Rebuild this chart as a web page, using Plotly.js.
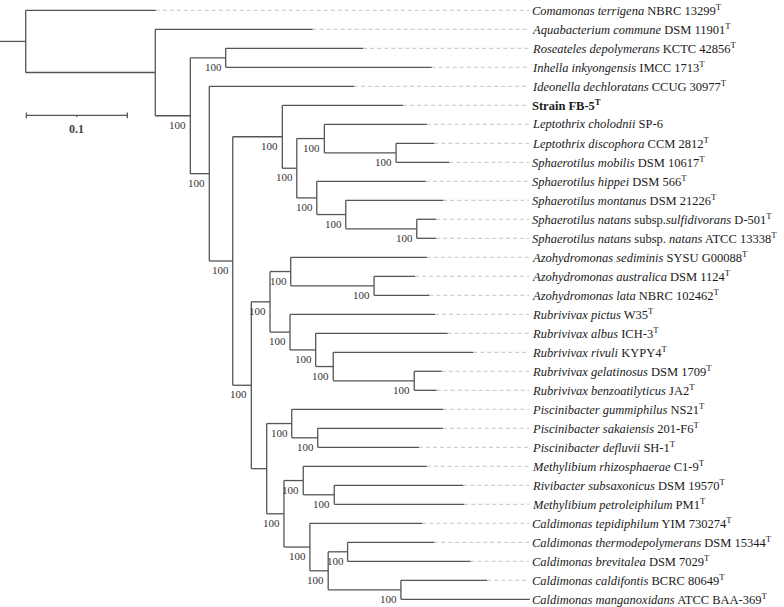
<!DOCTYPE html>
<html><head><meta charset="utf-8">
<script src="https://cdn.plot.ly/plotly-3.0.1.min.js"></script>
<style>html,body{margin:0;padding:0;background:#fff}</style>
</head><body><div id="chart" style="width:784px;height:607px"></div>
<script>
// ---- Data: leaves (top to bottom) ----
const taxa = [
  "<i>Comamonas terrigena</i> NBRC 13299<sup>T</sup>",
  "<i>Aquabacterium commune</i> DSM 11901<sup>T</sup>",
  "<i>Roseateles depolymerans</i> KCTC 42856<sup>T</sup>",
  "<i>Inhella inkyongensis</i> IMCC 1713<sup>T</sup>",
  "<i>Ideonella dechloratans</i> CCUG 30977<sup>T</sup>",
  "<b>Strain FB-5<sup>T</sup></b>",
  "<i>Leptothrix cholodnii</i> SP-6",
  "<i>Leptothrix discophora</i> CCM 2812<sup>T</sup>",
  "<i>Sphaerotilus mobilis</i> DSM 10617<sup>T</sup>",
  "<i>Sphaerotilus hippei</i> DSM 566<sup>T</sup>",
  "<i>Sphaerotilus montanus</i> DSM 21226<sup>T</sup>",
  "<i>Sphaerotilus natans</i> subsp.<i>sulfidivorans</i> D-501<sup>T</sup>",
  "<i>Sphaerotilus natans</i> subsp. <i>natans</i> ATCC 13338<sup>T</sup>",
  "<i>Azohydromonas sediminis</i> SYSU G00088<sup>T</sup>",
  "<i>Azohydromonas australica</i> DSM 1124<sup>T</sup>",
  "<i>Azohydromonas lata</i> NBRC 102462<sup>T</sup>",
  "<i>Rubrivivax pictus</i> W35<sup>T</sup>",
  "<i>Rubrivivax albus</i> ICH-3<sup>T</sup>",
  "<i>Rubrivivax rivuli</i> KYPY4<sup>T</sup>",
  "<i>Rubrivivax gelatinosus</i> DSM 1709<sup>T</sup>",
  "<i>Rubrivivax benzoatilyticus</i> JA2<sup>T</sup>",
  "<i>Piscinibacter gummiphilus</i> NS21<sup>T</sup>",
  "<i>Piscinibacter sakaiensis</i> 201-F6<sup>T</sup>",
  "<i>Piscinibacter defluvii</i> SH-1<sup>T</sup>",
  "<i>Methylibium rhizosphaerae</i> C1-9<sup>T</sup>",
  "<i>Rivibacter subsaxonicus</i> DSM 19570<sup>T</sup>",
  "<i>Methylibium petroleiphilum</i> PM1<sup>T</sup>",
  "<i>Caldimonas tepidiphilum</i> YIM 730274<sup>T</sup>",
  "<i>Caldimonas thermodepolymerans</i> DSM 15344<sup>T</sup>",
  "<i>Caldimonas brevitalea</i> DSM 7029<sup>T</sup>",
  "<i>Caldimonas caldifontis</i> BCRC 80649<sup>T</sup>",
  "<i>Caldimonas manganoxidans</i> ATCC BAA-369<sup>T</sup>"
];
const leafParent = ["R","N1","N3","N3","N4","N6","N8","N9","N9","N10","N11","N12","N12",
  "N15","N16","N16","N17","N18","N19","N20","N20","N22","N23","N23","N25","N26","N26",
  "N27","N29","N29","N30","N30"];
const leafLength = [0.1287,0.1558,0.1362,0.2040,0.1433,0.1195,0.1014,0.0379,0.0528,0.1079,
  0.0966,0.0191,0.0191,0.1347,0.0406,0.0548,0.1436,0.1307,0.1386,0.0271,0.0222,0.1501,
  0.1238,0.1003,0.1222,0.1277,0.1287,0.1112,0.0857,0.1218,0.0854,0.1277];

// ---- Data: internal nodes ----
const nodeNames  = ["R","N1","N2","N3","N4","N5","N6","N7","N8","N9","N10","N11","N12","N13","N14",
  "N15","N16","N17","N18","N19","N20","N21","N22","N23","N24","N25","N26","N27","N28","N29","N30"];
const nodeParent = [null,"R","N1","N2","N2","N4","N5","N6","N7","N8","N7","N10","N11","N5","N13",
  "N14","N15","N14","N17","N18","N19","N13","N21","N22","N21","N24","N25","N24","N27","N28","N28"];
const nodeLength = [0,0.1283,0.0347,0.0350,0.0188,0.0232,0.0491,0.0143,0.0273,0.0710,0.0198,0.0287,
  0.0703,0.0184,0.0185,0.0205,0.0825,0.0198,0.0254,0.0174,0.0802,0.0152,0.0248,0.0257,0.0171,
  0.0191,0.0307,0.0257,0.0181,0.0192,0.0720];
const nodeSupport = [null,null,100,100,100,100,100,100,100,100,100,100,100,100,100,
  100,100,100,100,100,100,null,100,100,100,100,100,100,100,100,100];

const rootStub = 0.0254;
const scaleBarLength = 0.1;
const scaleBarLabel = "0.1";
const dashEnd = 0.4983;
const labelStart = 0.4993;

// ---- Build tree geometry ----
const info = {};
nodeNames.forEach((n,i)=>{ info[n] = {len:nodeLength[i], parent:nodeParent[i], sup:nodeSupport[i], kids:[]}; });
nodeNames.forEach((n,i)=>{ if(nodeParent[i]) info[nodeParent[i]].kids.push(n); });
taxa.forEach((t,i)=>{ const id="L"+i; info[id]={len:leafLength[i], parent:leafParent[i], kids:[], leaf:i}; info[leafParent[i]].kids.push(id); });
function minLeaf(id){ const n=info[id]; if(n.leaf!==undefined) return n.leaf; return Math.min(...n.kids.map(minLeaf)); }
Object.keys(info).forEach(k=>info[k].kids.sort((a,b)=>minLeaf(a)-minLeaf(b)));
function setX(id, x){ const n=info[id]; n.x=x; n.kids.forEach(k=>setX(k, x+info[k].len)); }
setX("R", 0);
function setY(id){ const n=info[id]; if(n.leaf!==undefined){ n.y=n.leaf; return n.y; }
  const ys=n.kids.map(setY); n.y=(Math.min(...ys)+Math.max(...ys))/2; return n.y; }
setY("R");

const FONT = '"Liberation Serif", "Times New Roman", serif';
const sx=[], sy=[], dx=[], dy=[];
const ann=[];
Object.keys(info).forEach(id=>{
  const n=info[id];
  if(n.parent){ const p=info[n.parent]; sx.push(p.x,n.x,null); sy.push(n.y,n.y,null); }
  else { sx.push(n.x-rootStub,n.x,null); sy.push(n.y,n.y,null); }
  if(n.kids.length){ const ys=n.kids.map(k=>info[k].y); sx.push(n.x,n.x,null); sy.push(Math.min(...ys),Math.max(...ys),null); }
  if(n.leaf!==undefined){
    if(n.x<dashEnd-0.002){ dx.push(n.x,dashEnd,null); dy.push(n.y,n.y,null); }
    ann.push({x:labelStart,y:n.y,xref:'x',yref:'y',text:taxa[n.leaf],showarrow:false,xanchor:'left',yanchor:'middle',
      font:{family:FONT,size:12.5,color:'#1a1a1a'}});
  }
  if(n.sup){
    ann.push({x:n.x,y:n.y,xref:'x',yref:'y',text:String(n.sup),showarrow:false,xanchor:'right',yanchor:'middle',
      xshift:-2,yshift:-9,font:{family:FONT,size:11,color:'#333'}});
  }
});

// scale bar
const sbY = 5.53, sbX0 = 0.0006;
const bx=[sbX0,sbX0+scaleBarLength,null,sbX0,sbX0,null,sbX0+scaleBarLength,sbX0+scaleBarLength,null,sbX0+scaleBarLength/2,sbX0+scaleBarLength/2];
const by=[sbY,sbY,null,sbY-0.15,sbY+0.15,null,sbY-0.15,sbY+0.15,null,sbY,sbY+0.08];
ann.push({x:sbX0+scaleBarLength/2,y:sbY,xref:'x',yref:'y',text:'<b>'+scaleBarLabel+'</b>',showarrow:false,
  xanchor:'center',yanchor:'middle',yshift:-14,font:{family:FONT,size:12,color:'#444'}});

const traces=[
  {x:dx,y:dy,mode:'lines',line:{color:'#c4c4c4',width:1,dash:'4px,3px'},hoverinfo:'skip'},
  {x:sx,y:sy,mode:'lines',line:{color:'#555',width:1.3},hoverinfo:'skip'},
  {x:bx,y:by,mode:'lines',line:{color:'#555',width:1.3},hoverinfo:'skip'}
];
const layout={
  width:784,height:607,margin:{l:0,r:0,t:0,b:0},
  paper_bgcolor:'#fff',plot_bgcolor:'#fff',showlegend:false,
  xaxis:{range:[-0.02545,0.7508],visible:false,fixedrange:true},
  yaxis:{range:[31.405,-0.542],visible:false,fixedrange:true},
  annotations:ann
};
Plotly.newPlot('chart',traces,layout,{displayModeBar:false,staticPlot:true});
</script></body></html>
